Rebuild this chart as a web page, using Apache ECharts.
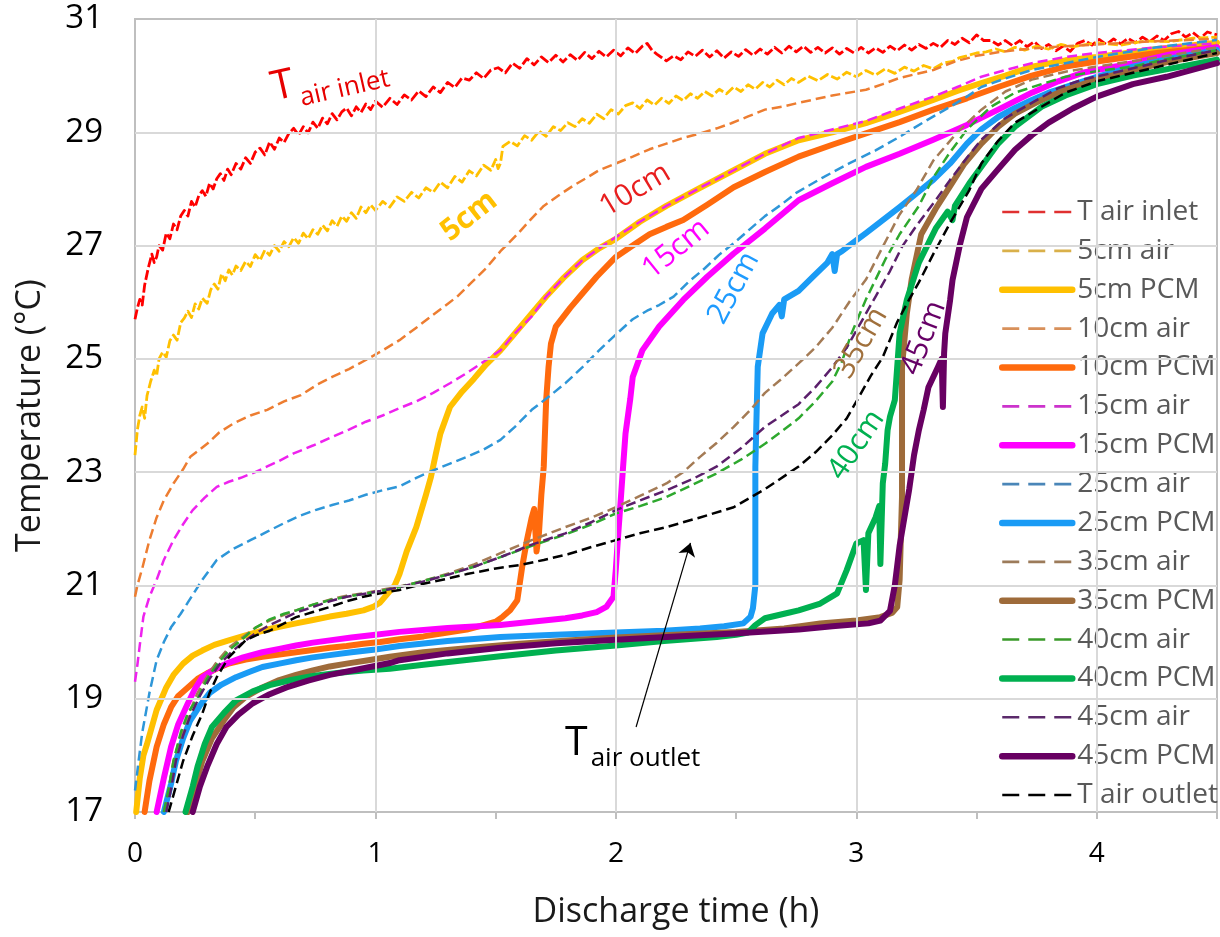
<!DOCTYPE html>
<html><head><meta charset="utf-8">
<script src="https://cdn.jsdelivr.net/npm/echarts@6/dist/echarts.min.js"></script>
<style>html,body{margin:0;padding:0;background:#fff}#c{width:1220px;height:937px}</style>
</head><body><div id="c"></div>
<script>
// ---------- DATA ----------
const xTickLabels = [0, 1, 2, 3, 4];
const yTickLabels = [17, 19, 21, 23, 25, 27, 29, 31];
const xGridLines = [1, 2, 3, 4];
const yGridLines = [19, 21, 23, 25, 27, 29];

const tAirInlet = [[0,25.7],[0.01,25.9],[0.02,26.05],[0.03,25.95],[0.04,26.3],[0.055,26.6],[0.07,26.85],[0.08,26.7],[0.09,26.8],[0.1,27.0],[0.115,26.92],[0.13,27.22],[0.145,27.12],[0.16,27.38],[0.175,27.28],[0.19,27.52],[0.205,27.62],[0.22,27.52],[0.235,27.78],[0.25,27.68],[0.265,27.88],[0.28,27.97],[0.295,27.87],[0.31,28.1],[0.325,28.0],[0.34,28.18],[0.355,28.27],[0.37,28.15],[0.385,28.35],[0.4,28.25],[0.42,28.45],[0.44,28.35],[0.46,28.55],[0.48,28.45],[0.5,28.65],[0.52,28.72],[0.54,28.6],[0.56,28.83],[0.58,28.7],[0.6,28.9],[0.62,28.82],[0.64,28.98],[0.66,29.07],[0.68,28.95],[0.7,29.1],[0.72,28.99],[0.74,29.18],[0.76,29.07],[0.78,29.25],[0.8,29.15],[0.82,29.33],[0.84,29.22],[0.86,29.36],[0.88,29.43],[0.9,29.29],[0.92,29.45],[0.94,29.35],[0.96,29.5],[0.98,29.4],[1.0,29.55],[1.03,29.44],[1.06,29.6],[1.09,29.49],[1.12,29.66],[1.15,29.57],[1.18,29.73],[1.21,29.63],[1.24,29.8],[1.27,29.7],[1.3,29.88],[1.33,29.79],[1.36,29.96],[1.39,29.92],[1.42,30.05],[1.45,29.95],[1.48,30.1],[1.51,30.14],[1.54,30.05],[1.57,30.22],[1.6,30.13],[1.63,30.3],[1.66,30.19],[1.69,30.33],[1.72,30.23],[1.75,30.36],[1.78,30.24],[1.81,30.37],[1.84,30.27],[1.87,30.41],[1.9,30.3],[1.93,30.43],[1.96,30.33],[1.99,30.45],[2.02,30.35],[2.05,30.49],[2.08,30.39],[2.11,30.52],[2.13,30.57],[2.15,30.45],[2.17,30.38],[2.19,30.32],[2.21,30.26],[2.24,30.35],[2.27,30.28],[2.3,30.42],[2.33,30.34],[2.36,30.45],[2.39,30.33],[2.42,30.44],[2.45,30.31],[2.48,30.42],[2.51,30.34],[2.54,30.46],[2.57,30.36],[2.6,30.47],[2.63,30.38],[2.66,30.5],[2.69,30.4],[2.72,30.52],[2.75,30.42],[2.78,30.52],[2.81,30.41],[2.84,30.5],[2.87,30.4],[2.9,30.49],[2.93,30.38],[2.96,30.48],[2.99,30.4],[3.02,30.5],[3.05,30.4],[3.08,30.49],[3.11,30.41],[3.14,30.52],[3.17,30.44],[3.2,30.54],[3.23,30.45],[3.26,30.55],[3.29,30.48],[3.32,30.57],[3.35,30.5],[3.38,30.62],[3.41,30.55],[3.44,30.66],[3.47,30.58],[3.5,30.72],[3.53,30.62],[3.56,30.62],[3.59,30.54],[3.62,30.62],[3.65,30.53],[3.68,30.62],[3.71,30.51],[3.74,30.6],[3.77,30.48],[3.8,30.55],[3.83,30.44],[3.86,30.52],[3.89,30.43],[3.92,30.57],[3.95,30.62],[3.98,30.54],[4.01,30.64],[4.04,30.55],[4.07,30.65],[4.1,30.56],[4.13,30.66],[4.16,30.58],[4.19,30.68],[4.22,30.6],[4.25,30.7],[4.28,30.62],[4.31,30.74],[4.34,30.78],[4.37,30.68],[4.4,30.76],[4.43,30.66],[4.46,30.77],[4.5,30.72]];

const fiveAir = [[0,23.3],[0.01,23.75],[0.02,24.0],[0.03,24.15],[0.04,23.95],[0.05,24.35],[0.065,24.6],[0.08,24.8],[0.09,24.7],[0.1,25.0],[0.115,25.12],[0.13,25.03],[0.145,25.32],[0.16,25.42],[0.175,25.33],[0.19,25.64],[0.205,25.72],[0.22,25.84],[0.235,25.73],[0.25,25.97],[0.265,25.88],[0.28,26.07],[0.3,25.98],[0.315,26.22],[0.33,26.32],[0.345,26.23],[0.36,26.5],[0.375,26.38],[0.39,26.57],[0.405,26.48],[0.42,26.64],[0.44,26.56],[0.46,26.72],[0.48,26.63],[0.5,26.84],[0.52,26.74],[0.54,26.92],[0.56,26.83],[0.58,27.0],[0.6,26.9],[0.62,27.07],[0.64,26.98],[0.66,27.14],[0.68,27.04],[0.7,27.22],[0.72,27.12],[0.74,27.28],[0.76,27.2],[0.78,27.36],[0.8,27.26],[0.82,27.44],[0.84,27.34],[0.86,27.52],[0.88,27.43],[0.9,27.58],[0.92,27.48],[0.94,27.68],[0.96,27.58],[0.98,27.72],[1.0,27.62],[1.03,27.78],[1.06,27.68],[1.09,27.86],[1.12,27.78],[1.15,27.94],[1.18,27.84],[1.21,28.02],[1.24,27.94],[1.27,28.12],[1.3,28.02],[1.33,28.22],[1.36,28.12],[1.39,28.32],[1.42,28.23],[1.45,28.42],[1.48,28.33],[1.5,28.52],[1.51,28.36],[1.52,28.45],[1.53,28.75],[1.56,28.84],[1.59,28.76],[1.62,28.94],[1.65,28.86],[1.68,29.02],[1.71,28.93],[1.74,29.1],[1.77,29.03],[1.8,29.17],[1.83,29.1],[1.86,29.24],[1.89,29.16],[1.92,29.32],[1.95,29.24],[1.98,29.4],[2.01,29.32],[2.04,29.47],[2.07,29.52],[2.1,29.42],[2.13,29.57],[2.16,29.48],[2.19,29.6],[2.22,29.51],[2.25,29.64],[2.28,29.56],[2.31,29.68],[2.34,29.6],[2.37,29.72],[2.4,29.64],[2.43,29.76],[2.46,29.68],[2.49,29.8],[2.52,29.72],[2.55,29.84],[2.58,29.76],[2.61,29.88],[2.64,29.8],[2.67,29.92],[2.7,29.84],[2.73,29.95],[2.76,29.88],[2.8,29.99],[2.84,29.91],[2.88,30.02],[2.92,29.94],[2.96,30.06],[3.0,29.98],[3.04,30.09],[3.08,30.01],[3.12,30.12],[3.16,30.04],[3.2,30.15],[3.24,30.08],[3.28,30.18],[3.32,30.12],[3.36,30.22],[3.4,30.25],[3.43,30.32],[3.46,30.35],[3.5,30.4],[3.54,30.42],[3.58,30.47],[3.62,30.42],[3.66,30.5],[3.7,30.45],[3.75,30.52],[3.8,30.47],[3.85,30.55],[3.9,30.51],[4.0,30.58],[4.1,30.54],[4.2,30.61],[4.3,30.6],[4.4,30.66],[4.5,30.68]];

const fivePCM = [[0.005,17.0],[0.02,17.6],[0.035,18.0],[0.05,18.2],[0.07,18.5],[0.09,18.8],[0.11,19.0],[0.13,19.2],[0.16,19.42],[0.2,19.62],[0.24,19.76],[0.28,19.85],[0.33,19.95],[0.39,20.03],[0.46,20.12],[0.53,20.2],[0.6,20.27],[0.67,20.33],[0.74,20.39],[0.81,20.45],[0.88,20.5],[0.95,20.56],[0.99,20.62],[1.02,20.7],[1.05,20.85],[1.08,21.0],[1.1,21.2],[1.13,21.6],[1.17,22.03],[1.21,22.6],[1.23,22.9],[1.25,23.3],[1.27,23.68],[1.31,24.15],[1.36,24.42],[1.41,24.65],[1.46,24.9],[1.52,25.15],[1.58,25.45],[1.65,25.8],[1.71,26.1],[1.78,26.42],[1.86,26.74],[1.93,26.95],[2.0,27.12],[2.1,27.42],[2.21,27.7],[2.35,28.02],[2.49,28.33],[2.62,28.62],[2.76,28.86],[2.9,29.0],[3.04,29.16],[3.18,29.36],[3.32,29.57],[3.42,29.73],[3.52,29.87],[3.62,30.0],[3.73,30.16],[3.87,30.27],[4.0,30.33],[4.25,30.47],[4.5,30.58]];

const tenAir = [[0,20.8],[0.01,21.0],[0.03,21.3],[0.06,21.8],[0.09,22.2],[0.12,22.5],[0.16,22.8],[0.2,23.05],[0.23,23.27],[0.27,23.4],[0.3,23.5],[0.35,23.7],[0.41,23.86],[0.48,24.0],[0.55,24.1],[0.62,24.25],[0.69,24.36],[0.76,24.55],[0.82,24.68],[0.89,24.82],[0.96,24.98],[1.03,25.15],[1.1,25.33],[1.17,25.55],[1.24,25.78],[1.3,25.97],[1.34,26.1],[1.4,26.35],[1.46,26.6],[1.52,26.9],[1.59,27.2],[1.65,27.48],[1.7,27.7],[1.76,27.88],[1.82,28.05],[1.88,28.2],[1.93,28.33],[2.0,28.45],[2.07,28.57],[2.14,28.7],[2.21,28.8],[2.28,28.9],[2.35,28.98],[2.42,29.07],[2.48,29.16],[2.55,29.28],[2.62,29.4],[2.69,29.45],[2.76,29.52],[2.9,29.65],[3.04,29.75],[3.11,29.85],[3.18,29.96],[3.25,30.03],[3.32,30.1],[3.41,30.25],[3.5,30.35],[3.6,30.42],[3.73,30.48],[3.87,30.52],[4.0,30.55],[4.2,30.6],[4.5,30.65]];

const tenPCM = [[0.04,17.0],[0.06,17.55],[0.09,18.15],[0.12,18.55],[0.15,18.85],[0.18,19.05],[0.22,19.2],[0.26,19.35],[0.3,19.45],[0.35,19.55],[0.39,19.62],[0.46,19.69],[0.53,19.74],[0.6,19.78],[0.67,19.82],[0.74,19.86],[0.81,19.9],[0.88,19.93],[0.95,19.97],[1.02,20.0],[1.1,20.05],[1.2,20.1],[1.3,20.17],[1.38,20.22],[1.45,20.3],[1.5,20.36],[1.53,20.45],[1.56,20.56],[1.59,20.74],[1.61,21.32],[1.63,21.8],[1.65,22.2],[1.66,22.35],[1.67,21.6],[1.68,21.92],[1.69,22.6],[1.7,23.1],[1.71,24.27],[1.72,24.86],[1.73,25.27],[1.75,25.57],[1.81,25.9],[1.85,26.1],[1.92,26.45],[2.0,26.8],[2.07,27.0],[2.14,27.2],[2.21,27.33],[2.28,27.45],[2.38,27.72],[2.49,28.03],[2.62,28.3],[2.76,28.57],[2.9,28.78],[3.04,28.98],[3.18,29.18],[3.32,29.4],[3.46,29.6],[3.59,29.8],[3.73,30.0],[3.87,30.16],[4.0,30.25],[4.25,30.4],[4.5,30.5]];

const fifteenAir = [[0,19.3],[0.01,19.6],[0.02,19.95],[0.035,20.45],[0.06,20.8],[0.09,21.1],[0.12,21.45],[0.16,21.8],[0.2,22.08],[0.24,22.33],[0.29,22.55],[0.34,22.74],[0.39,22.83],[0.44,22.9],[0.5,23.0],[0.55,23.1],[0.6,23.2],[0.66,23.33],[0.74,23.47],[0.82,23.62],[0.89,23.75],[0.96,23.89],[1.03,24.0],[1.1,24.13],[1.17,24.25],[1.24,24.4],[1.31,24.57],[1.38,24.75],[1.45,24.95],[1.52,25.15],[1.58,25.45],[1.65,25.75],[1.71,26.1],[1.78,26.42],[1.86,26.74],[1.93,26.95],[2.0,27.15],[2.1,27.42],[2.21,27.7],[2.35,28.02],[2.49,28.33],[2.62,28.62],[2.76,28.9],[2.9,29.05],[3.04,29.2],[3.18,29.42],[3.32,29.63],[3.42,29.8],[3.52,29.98],[3.62,30.1],[3.73,30.22],[3.87,30.33],[4.0,30.4],[4.25,30.5],[4.5,30.57]];

const fifteenPCM = [[0.09,17.0],[0.12,17.6],[0.15,18.15],[0.18,18.55],[0.22,18.92],[0.25,19.18],[0.28,19.38],[0.33,19.52],[0.38,19.62],[0.45,19.73],[0.53,19.82],[0.6,19.88],[0.67,19.94],[0.74,19.99],[0.81,20.03],[0.9,20.08],[1.0,20.13],[1.1,20.18],[1.3,20.25],[1.52,20.3],[1.65,20.36],[1.79,20.42],[1.86,20.47],[1.92,20.53],[1.96,20.62],[1.99,20.8],[2.0,21.3],[2.01,21.92],[2.02,22.5],[2.03,23.1],[2.04,23.68],[2.06,24.3],[2.07,24.68],[2.11,25.15],[2.18,25.57],[2.28,26.04],[2.38,26.45],[2.49,26.86],[2.62,27.3],[2.76,27.8],[2.9,28.1],[3.04,28.39],[3.18,28.62],[3.32,28.87],[3.46,29.13],[3.59,29.4],[3.73,29.7],[3.84,29.9],[3.94,30.05],[4.15,30.22],[4.3,30.37],[4.5,30.5]];

const twentyFiveAir = [[0,17.38],[0.015,17.9],[0.03,18.4],[0.06,19.1],[0.09,19.68],[0.12,20.0],[0.15,20.26],[0.19,20.5],[0.22,20.7],[0.25,20.9],[0.28,21.1],[0.34,21.45],[0.41,21.65],[0.48,21.8],[0.55,21.95],[0.62,22.1],[0.68,22.22],[0.75,22.33],[0.82,22.42],[0.89,22.5],[0.96,22.6],[1.03,22.68],[1.1,22.75],[1.17,22.9],[1.24,23.03],[1.31,23.15],[1.38,23.27],[1.45,23.4],[1.52,23.57],[1.58,23.8],[1.65,24.1],[1.72,24.33],[1.79,24.57],[1.86,24.85],[1.93,25.15],[2.0,25.43],[2.07,25.7],[2.13,25.85],[2.18,25.95],[2.24,26.1],[2.3,26.35],[2.37,26.6],[2.43,26.84],[2.49,27.04],[2.56,27.3],[2.62,27.52],[2.69,27.73],[2.75,27.93],[2.86,28.2],[2.97,28.45],[3.08,28.68],[3.18,28.92],[3.28,29.18],[3.39,29.45],[3.46,29.63],[3.52,29.8],[3.62,29.95],[3.73,30.1],[3.87,30.22],[4.0,30.33],[4.25,30.5],[4.5,30.63]];

const twentyFivePCM = [[0.12,17.0],[0.15,17.5],[0.17,17.9],[0.2,18.3],[0.23,18.62],[0.27,18.88],[0.31,19.1],[0.36,19.25],[0.42,19.38],[0.48,19.48],[0.53,19.56],[0.6,19.62],[0.67,19.68],[0.74,19.73],[0.81,19.77],[0.9,19.82],[1.0,19.87],[1.1,19.93],[1.3,20.02],[1.52,20.09],[1.75,20.13],[2.0,20.17],[2.2,20.2],[2.35,20.24],[2.45,20.28],[2.53,20.33],[2.56,20.45],[2.57,20.6],[2.58,21.0],[2.58,22.0],[2.58,23.1],[2.585,24.0],[2.59,24.86],[2.61,25.45],[2.65,25.8],[2.68,25.95],[2.69,25.75],[2.7,26.05],[2.76,26.2],[2.82,26.45],[2.88,26.7],[2.9,26.85],[2.91,26.55],[2.92,26.85],[2.94,26.9],[2.97,27.0],[3.04,27.22],[3.11,27.45],[3.18,27.68],[3.25,27.92],[3.32,28.16],[3.39,28.45],[3.46,28.8],[3.52,29.05],[3.59,29.27],[3.66,29.43],[3.73,29.57],[3.8,29.7],[3.87,29.8],[4.0,29.98],[4.15,30.16],[4.3,30.3],[4.5,30.45]];

const thirtyFiveAir = [[0.12,17.0],[0.14,17.4],[0.16,17.9],[0.19,18.35],[0.22,18.7],[0.26,19.1],[0.3,19.4],[0.34,19.65],[0.39,19.9],[0.44,20.06],[0.5,20.25],[0.56,20.38],[0.62,20.48],[0.67,20.56],[0.74,20.66],[0.81,20.75],[0.88,20.82],[0.95,20.86],[1.02,20.92],[1.1,20.98],[1.2,21.08],[1.31,21.22],[1.41,21.37],[1.52,21.57],[1.65,21.8],[1.79,22.03],[1.9,22.2],[2.0,22.38],[2.1,22.58],[2.21,22.8],[2.28,23.0],[2.35,23.27],[2.42,23.52],[2.49,23.8],[2.56,24.1],[2.62,24.4],[2.69,24.65],[2.76,24.92],[2.83,25.2],[2.9,25.55],[2.97,26.0],[3.04,26.4],[3.11,26.98],[3.18,27.55],[3.25,27.98],[3.32,28.5],[3.42,29.0],[3.52,29.4],[3.62,29.72],[3.73,29.93],[3.87,30.07],[4.0,30.16],[4.25,30.32],[4.5,30.5]];

const thirtyFivePCM = [[0.22,17.0],[0.25,17.45],[0.28,17.9],[0.32,18.3],[0.37,18.62],[0.41,18.85],[0.46,19.03],[0.53,19.2],[0.6,19.33],[0.67,19.42],[0.74,19.5],[0.81,19.57],[0.88,19.62],[0.97,19.68],[1.06,19.74],[1.2,19.82],[1.4,19.9],[1.6,19.97],[1.8,20.03],[2.0,20.08],[2.2,20.12],[2.5,20.18],[2.7,20.24],[2.85,20.33],[3.0,20.38],[3.1,20.44],[3.15,20.52],[3.17,20.62],[3.18,21.1],[3.19,22.56],[3.19,23.74],[3.19,24.86],[3.21,25.8],[3.23,26.4],[3.27,27.2],[3.33,27.65],[3.39,28.05],[3.45,28.45],[3.52,28.8],[3.59,29.1],[3.66,29.33],[3.76,29.55],[3.87,29.75],[4.0,29.93],[4.15,30.1],[4.3,30.25],[4.5,30.4]];

const fortyAir = [[0.12,17.0],[0.14,17.4],[0.16,17.9],[0.19,18.4],[0.22,18.75],[0.26,19.0],[0.3,19.35],[0.34,19.6],[0.39,19.85],[0.44,20.03],[0.5,20.25],[0.56,20.4],[0.62,20.5],[0.67,20.56],[0.74,20.66],[0.81,20.74],[0.88,20.8],[0.95,20.85],[1.02,20.9],[1.1,20.97],[1.2,21.08],[1.31,21.2],[1.41,21.33],[1.52,21.5],[1.65,21.7],[1.79,21.9],[1.9,22.08],[2.0,22.27],[2.1,22.4],[2.21,22.56],[2.32,22.78],[2.42,22.98],[2.52,23.22],[2.62,23.5],[2.69,23.72],[2.76,23.95],[2.83,24.25],[2.9,24.6],[2.94,24.95],[2.98,25.45],[3.04,26.05],[3.12,26.75],[3.18,27.2],[3.26,27.7],[3.32,28.2],[3.39,28.65],[3.46,29.05],[3.56,29.45],[3.66,29.7],[3.77,29.85],[3.87,29.98],[4.0,30.08],[4.15,30.16],[4.3,30.3],[4.5,30.45]];

const fortyPCM = [[0.21,17.0],[0.24,17.45],[0.26,17.8],[0.29,18.2],[0.32,18.5],[0.37,18.75],[0.42,18.97],[0.49,19.13],[0.56,19.24],[0.65,19.33],[0.74,19.4],[0.85,19.46],[0.95,19.5],[1.06,19.53],[1.2,19.6],[1.35,19.67],[1.52,19.75],[1.75,19.85],[2.0,19.94],[2.2,20.02],[2.42,20.09],[2.5,20.13],[2.55,20.17],[2.58,20.3],[2.62,20.42],[2.7,20.5],[2.76,20.56],[2.85,20.68],[2.92,20.86],[2.96,21.27],[3.0,21.74],[3.03,21.8],[3.04,20.92],[3.05,21.92],[3.08,22.2],[3.095,22.4],[3.1,21.38],[3.11,22.8],[3.12,23.15],[3.13,23.74],[3.14,23.98],[3.16,24.27],[3.18,25.45],[3.21,26.04],[3.26,26.7],[3.33,27.3],[3.38,27.6],[3.4,27.45],[3.41,27.7],[3.47,28.1],[3.52,28.39],[3.59,28.8],[3.66,29.1],[3.77,29.45],[3.87,29.65],[4.0,29.85],[4.15,30.0],[4.3,30.12],[4.5,30.28]];

const fortyFiveAir = [[0.13,17.0],[0.15,17.4],[0.17,17.9],[0.2,18.35],[0.23,18.7],[0.27,19.05],[0.31,19.35],[0.35,19.6],[0.4,19.82],[0.45,20.0],[0.5,20.15],[0.56,20.3],[0.62,20.42],[0.67,20.52],[0.74,20.62],[0.81,20.72],[0.88,20.8],[0.95,20.85],[1.02,20.9],[1.1,20.97],[1.2,21.07],[1.31,21.2],[1.41,21.33],[1.52,21.5],[1.65,21.72],[1.79,21.92],[1.9,22.12],[2.0,22.33],[2.1,22.5],[2.21,22.68],[2.32,22.88],[2.42,23.1],[2.52,23.42],[2.62,23.8],[2.69,24.0],[2.76,24.2],[2.83,24.5],[2.9,24.85],[2.96,25.2],[3.02,25.65],[3.08,26.1],[3.14,26.55],[3.19,26.98],[3.25,27.35],[3.33,27.8],[3.39,28.16],[3.46,28.55],[3.52,28.87],[3.62,29.25],[3.73,29.52],[3.84,29.78],[3.94,29.93],[4.1,30.08],[4.3,30.28],[4.5,30.45]];

const fortyFivePCM = [[0.24,17.0],[0.27,17.45],[0.3,17.8],[0.34,18.2],[0.38,18.5],[0.43,18.72],[0.49,18.92],[0.56,19.08],[0.63,19.2],[0.72,19.32],[0.81,19.42],[0.93,19.52],[1.06,19.63],[1.1,19.68],[1.3,19.8],[1.52,19.9],[1.75,19.98],[2.0,20.04],[2.25,20.1],[2.49,20.15],[2.76,20.22],[2.9,20.28],[3.05,20.33],[3.1,20.38],[3.14,20.55],[3.16,21.0],[3.18,21.7],[3.2,22.2],[3.22,22.7],[3.24,23.3],[3.26,23.74],[3.28,24.1],[3.3,24.5],[3.34,24.86],[3.355,25.0],[3.36,24.15],[3.365,25.1],[3.37,25.45],[3.39,26.04],[3.4,26.39],[3.43,27.0],[3.46,27.5],[3.52,28.0],[3.59,28.35],[3.66,28.69],[3.73,28.95],[3.8,29.17],[3.9,29.42],[4.0,29.63],[4.15,29.85],[4.29,29.98],[4.5,30.22]];

const tAirOutlet = [[0.14,17.0],[0.17,17.45],[0.2,17.9],[0.24,18.35],[0.28,18.74],[0.31,19.1],[0.34,19.38],[0.39,19.73],[0.46,20.03],[0.51,20.13],[0.56,20.2],[0.62,20.33],[0.67,20.44],[0.74,20.53],[0.81,20.62],[0.88,20.72],[0.95,20.8],[1.02,20.86],[1.1,20.92],[1.2,21.03],[1.3,21.12],[1.38,21.2],[1.5,21.3],[1.6,21.36],[1.7,21.45],[1.8,21.55],[1.9,21.68],[2.0,21.8],[2.1,21.92],[2.21,22.03],[2.35,22.2],[2.49,22.38],[2.62,22.7],[2.76,23.1],[2.83,23.35],[2.9,23.65],[2.96,23.95],[3.01,24.32],[3.06,24.7],[3.11,25.03],[3.17,25.65],[3.22,26.05],[3.26,26.35],[3.32,26.85],[3.39,27.4],[3.47,27.98],[3.52,28.45],[3.59,28.85],[3.66,29.17],[3.77,29.45],[3.87,29.7],[4.0,29.9],[4.15,30.05],[4.3,30.2],[4.5,30.4]];

const seriesNames = ['T air inlet','5cm air','5cm PCM','10cm air','10cm PCM','15cm air','15cm PCM','25cm air','25cm PCM','35cm air','35cm PCM','40cm air','40cm PCM','45cm air','45cm PCM','T air outlet'];
const seriesValues = [tAirInlet, fiveAir, fivePCM, tenAir, tenPCM, fifteenAir, fifteenPCM, twentyFiveAir, twentyFivePCM, thirtyFiveAir, thirtyFivePCM, fortyAir, fortyPCM, fortyFiveAir, fortyFivePCM, tAirOutlet];

// ---------- STYLE ----------
const seriesColors = ['#FF0000','#FFC000','#FFC000','#ED7D31','#FF6A0D','#EE22EE','#FF00FF','#2E96D8','#1A9BF5','#A47B55','#9E6B3A','#2EA82E','#00B050','#5B1F6B','#680062','#000000'];
const legendColors = ['#E03030','#D9B04A','#FFC000','#D8905A','#FF6A0D','#CC33CC','#FF00FF','#4A86B8','#1A9BF5','#9C7B5A','#9E6B3A','#3A9A2A','#00B050','#5B2A6B','#680062','#000000'];
const FONT = "'Open Sans', sans-serif";

const chart = echarts.init(document.getElementById('c'), null, {renderer: 'canvas'});

const series = seriesNames.map((name, i) => {
  const isAir = !name.includes('PCM');
  const noisy = (i === 0 || i === 1);
  return {
    name, type: 'line', data: seriesValues[i], symbol: 'none', showSymbol: false,
    animation: false, z: 3, silent: true,
    itemStyle: {color: seriesColors[i], opacity: 0},
    lineStyle: {
      color: seriesColors[i],
      width: isAir ? (noisy ? 2.8 : 2.5) : 6,
      type: isAir ? (noisy ? [10, 3] : [10, 5]) : 'solid',
      cap: isAir ? 'butt' : 'round', join: 'round'
    }
  };
});

// gridlines drawn behind the curves
series.unshift({
  type: 'line', data: [], z: 1, silent: true, animation: false,
  markLine: {
    silent: true, animation: false, symbol: ['none', 'none'], label: {show: false},
    lineStyle: {color: '#D9D9D9', width: 2, type: 'solid'},
    data: xGridLines.map(v => ({xAxis: v})).concat(yGridLines.map(v => ({yAxis: v})))
  }
});
// arrow pointing to T air outlet
series.push({
  type: 'line', data: [], z: 5, silent: true, animation: false,
  markLine: {
    silent: true, animation: false, symbol: ['none', 'arrow'], symbolSize: 13, label: {show: false},
    lineStyle: {color: '#000', width: 1.2, type: 'solid'},
    data: [[{coord: [2.084, 18.5]}, {coord: [2.31, 21.75]}]]
  }
});

chart.setOption({
  animation: false,
  textStyle: {fontFamily: FONT},
  grid: {left: 135, right: 2, top: 19, bottom: 125, show: true, borderColor: '#BFBFBF', borderWidth: 2, backgroundColor: 'transparent'},
  xAxis: {
    type: 'value', min: 0, max: 4.5, interval: 0.5,
    name: 'Discharge time (h)', nameLocation: 'middle', nameGap: 83,
    nameTextStyle: {fontSize: 34, color: '#1a1a1a', fontFamily: FONT},
    axisLine: {show: true, lineStyle: {color: '#BFBFBF', width: 2}},
    axisTick: {show: true, inside: false, length: 7, lineStyle: {color: '#BFBFBF', width: 2}},
    axisLabel: {fontSize: 28, color: '#000', margin: 28, fontFamily: FONT,
      formatter: v => (xTickLabels.includes(v) ? String(v) : '')},
    splitLine: {show: false}
  },
  yAxis: {
    type: 'value', min: 17, max: 31, interval: 1,
    name: 'Temperature (°C)', nameLocation: 'middle', nameGap: 88,
    nameTextStyle: {fontSize: 34, color: '#1a1a1a', fontFamily: FONT},
    axisLine: {show: true, lineStyle: {color: '#BFBFBF', width: 2}},
    axisTick: {show: false},
    axisLabel: {fontSize: 33, color: '#000', margin: 32, fontFamily: FONT,
      formatter: v => (yTickLabels.includes(v) ? String(v) : '')},
    splitLine: {show: false}
  },
  legend: {
    orient: 'vertical', left: 999, top: 198, padding: 0,
    itemWidth: 70, itemHeight: 14, itemGap: 10.87, selectedMode: false,
    itemStyle: {opacity: 0, borderWidth: 0},
    textStyle: {fontSize: 28, lineHeight: 28, color: '#595959', fontFamily: FONT},
    data: seriesNames.map((n, i) => n.includes('PCM')
      ? {name: n, lineStyle: {width: 6.5, cap: 'round', color: legendColors[i], type: 'solid'}}
      : {name: n, lineStyle: {type: [17, 9], width: 2.6, color: legendColors[i], cap: 'butt'}})
  },
  series
});

// in-plot labels, positioned in data coordinates
const annotations = [
  {rich: true, main: 'T', sub: 'air inlet', at: [0.81, 29.92], rot: 12.8, color: '#E60000'},
  {text: '5cm', at: [1.39, 27.52], rot: 38, color: '#FFC000', size: 30, weight: 'bold'},
  {text: '10cm', at: [2.08, 27.98], rot: 31, color: '#E81E1E', size: 30},
  {text: '15cm', at: [2.25, 26.94], rot: 39, color: '#FF00FF', size: 30},
  {text: '25cm', at: [2.49, 26.25], rot: 62, color: '#1E9BFF', size: 30},
  {text: '35cm', at: [3.02, 25.28], rot: 60, color: '#A0703C', size: 30},
  {text: '40cm', at: [3.0, 23.48], rot: 56, color: '#00B050', size: 30},
  {text: '45cm', at: [3.28, 25.37], rot: 69, color: '#660066', size: 30},
  {rich: true, main: 'T', sub: 'air outlet', at: [2.07, 18.15], rot: 0, color: '#000000'}
];
const graphics = annotations.map(a => {
  const p = chart.convertToPixel({gridIndex: 0}, a.at);
  const base = {type: 'text', x: p[0], y: p[1], rotation: a.rot * Math.PI / 180, z: 10, silent: true};
  if (a.rich) {
    base.style = {
      text: '{m|' + a.main + '}{s|' + a.sub + '}', align: 'center', verticalAlign: 'middle',
      fill: a.color, fontFamily: FONT,
      rich: {
        m: {fontSize: 41, fontFamily: FONT, fill: a.color, color: a.color, verticalAlign: 'bottom', padding: [0, 3, 8, 0]},
        s: {fontSize: 26, fontFamily: FONT, fill: a.color, color: a.color, verticalAlign: 'bottom'}
      }
    };
  } else {
    base.style = {text: a.text, fill: a.color, fontSize: a.size, fontWeight: a.weight || 'normal',
      fontFamily: FONT, align: 'center', verticalAlign: 'middle'};
  }
  return base;
});
chart.setOption({graphic: graphics});
</script>
</body></html>
